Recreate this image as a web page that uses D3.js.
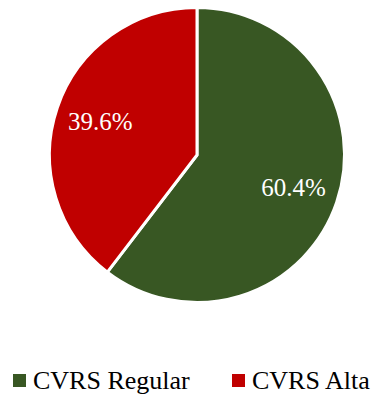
<!DOCTYPE html>
<html>
<head>
<meta charset="utf-8">
<script src="https://cdn.jsdelivr.net/npm/d3@7"></script>
<style>
  html, body { margin: 0; padding: 0; background: #fff; }
  svg { display: block; }
</style>
</head>
<body>
<svg id="chart" width="375" height="398"></svg>
<script>
// Share of CVRS categories
const categories = ["CVRS Regular", "CVRS Alta"];
const values = [60.4, 39.6];
const labels = ["60.4%", "39.6%"];
const colors = ["#385723", "#C00000"];

const svg = d3.select("#chart");
const cx = 197, cy = 155, radius = 147.5;

const pie = d3.pie().sort(null).value(d => d)(values);
const arc = d3.arc().innerRadius(0).outerRadius(radius);
const labelArc = d3.arc().innerRadius(102).outerRadius(102);

const g = svg.append("g").attr("transform", `translate(${cx},${cy})`);

g.selectAll("path.slice")
  .data(pie)
  .join("path")
  .attr("class", "slice")
  .attr("d", arc)
  .attr("fill", (d, i) => colors[i])
  .attr("stroke", "#fff")
  .attr("stroke-width", 3)
  .attr("stroke-linejoin", "round");

g.selectAll("text.pct")
  .data(pie)
  .join("text")
  .attr("class", "pct")
  .attr("transform", d => `translate(${labelArc.centroid(d)})`)
  .attr("text-anchor", "middle")
  .attr("dy", "0.32em")
  .attr("fill", "#fff")
  .style("font-family", "Liberation Serif")
  .style("font-size", "25px")
  .text((d, i) => labels[i]);

// Legend
const legendX = [13, 232];
const legend = svg.append("g");
const items = legend.selectAll("g.item")
  .data(categories)
  .join("g")
  .attr("class", "item")
  .attr("transform", (d, i) => `translate(${legendX[i]},374)`);

items.append("rect")
  .attr("width", 13)
  .attr("height", 13)
  .attr("fill", (d, i) => colors[i]);

items.append("text")
  .attr("x", 20)
  .attr("y", 15)
  .style("font-family", "Liberation Serif")
  .style("font-size", "26px")
  .attr("fill", "#000")
  .text(d => d);
</script>
</body>
</html>
